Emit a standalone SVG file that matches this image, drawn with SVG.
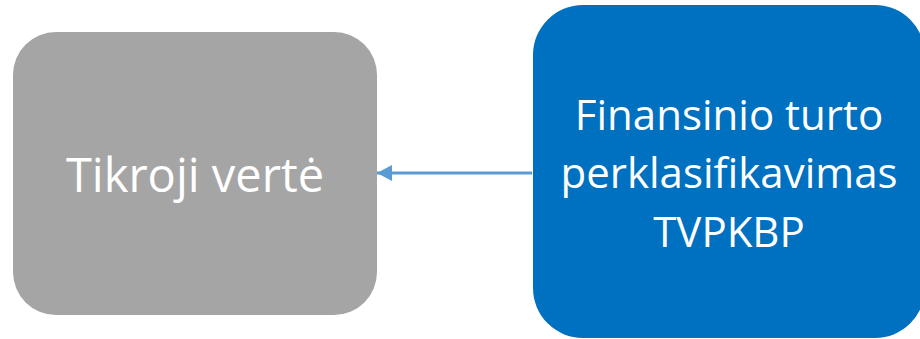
<svg xmlns="http://www.w3.org/2000/svg" width="920" height="339" viewBox="0 0 920 339">
<style>
.t{font-family:"Open Sans","Noto Sans",sans-serif;fill:#fff;text-anchor:middle}
.l{font-size:47px}
.r{font-size:42px}
</style>
<defs>
<marker id="ah" markerUnits="userSpaceOnUse" markerWidth="16" markerHeight="16" refX="15" refY="8" orient="auto">
<path d="M0,0 L15,8 L0,16 Z" fill="#5B9BD5"/>
</marker>
</defs>
<rect width="920" height="339" fill="#fff"/>
<g id="connectors">
<line x1="532" y1="173" x2="377" y2="173" stroke="#5B9BD5" stroke-width="3" marker-end="url(#ah)"/>
</g>
<g id="node-tikroji">
<rect x="13" y="32" width="364" height="283" rx="43" fill="#A5A5A5"/>
<text class="t l" x="195" y="192">Tikroji vertė</text>
</g>
<g id="node-finansinio">
<rect x="533" y="5" width="392" height="333" rx="50" fill="#0070C0"/>
<text class="t r" x="729" y="130">Finansinio turto</text>
<text class="t r" x="729" y="188">perklasifikavimas</text>
<text class="t r" x="729" y="247">TVPKBP</text>
</g>
</svg>
